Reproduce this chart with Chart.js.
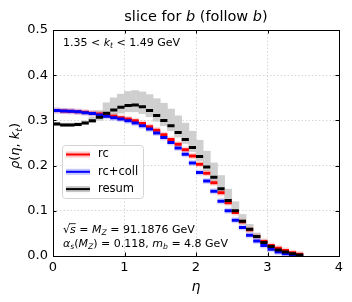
<!DOCTYPE html>
<html>
<head>
<meta charset="utf-8">
<script src="https://cdn.jsdelivr.net/npm/chart.js@4.4.1/dist/chart.umd.min.js"></script>
<style>
  html, body { margin: 0; padding: 0; background: #fff; }
</style>
</head>
<body>
<canvas id="c" width="352" height="302"></canvas>
<script>
// bin lower edges in eta, all bins 0.1 wide
const binLo = [0.0, 0.1, 0.2, 0.3, 0.4, 0.5, 0.6, 0.7, 0.8, 0.9,
               1.0, 1.1, 1.2, 1.3, 1.4, 1.5, 1.6, 1.7, 1.8, 1.9,
               2.0, 2.1, 2.2, 2.3, 2.4, 2.5, 2.6, 2.7, 2.8, 2.9,
               3.0, 3.1, 3.2, 3.3, 3.4];
const binWidth = 0.1;

const rc = [0.322, 0.321, 0.320, 0.319, 0.318, 0.316, 0.314, 0.312, 0.309, 0.306,
            0.303, 0.299, 0.293, 0.286, 0.278, 0.268, 0.258, 0.247, 0.235, 0.221,
            0.203, 0.183, 0.162, 0.140, 0.118, 0.096, 0.076, 0.058, 0.043, 0.032,
            0.023, 0.017, 0.012, 0.007, 0.004];

const rcColl = [0.322, 0.321, 0.320, 0.319, 0.317, 0.315, 0.312, 0.309, 0.306, 0.303,
                0.299, 0.294, 0.288, 0.281, 0.272, 0.262, 0.251, 0.239, 0.225, 0.206,
                0.185, 0.166, 0.143, 0.121, 0.100, 0.079, 0.063, 0.046, 0.033, 0.023,
                0.015, 0.009, 0.005, 0.002, 0.000];

const resum = [0.292, 0.290, 0.290, 0.291, 0.294, 0.299, 0.307, 0.316, 0.323, 0.329,
               0.333, 0.334, 0.330, 0.322, 0.311, 0.300, 0.288, 0.273, 0.258, 0.240,
               0.220, 0.197, 0.174, 0.149, 0.123, 0.100, 0.077, 0.059, 0.043, 0.030,
               0.021, 0.013, 0.009, 0.005, 0.002];

const resumHi = [0.296, 0.294, 0.294, 0.295, 0.299, 0.307, 0.322, 0.339, 0.350, 0.358,
                 0.364, 0.366, 0.363, 0.357, 0.348, 0.338, 0.325, 0.310, 0.294, 0.276,
                 0.256, 0.232, 0.206, 0.178, 0.148, 0.120, 0.092, 0.070, 0.051, 0.036,
                 0.025, 0.016, 0.011, 0.006, 0.003];

const resumLo = [0.289, 0.287, 0.287, 0.288, 0.291, 0.295, 0.300, 0.306, 0.311, 0.316,
                 0.319, 0.319, 0.315, 0.308, 0.298, 0.288, 0.277, 0.263, 0.249, 0.231,
                 0.211, 0.189, 0.166, 0.141, 0.116, 0.094, 0.071, 0.054, 0.039, 0.027,
                 0.018, 0.011, 0.007, 0.004, 0.001];

const xTicks = [0, 1, 2, 3, 4];
const yTicks = [0, 0.1, 0.2, 0.3, 0.4, 0.5];

const FONT = 'DejaVu Sans';

// one short horizontal segment per bin, broken by null points
function segments(vals) {
  const pts = [];
  vals.forEach((v, i) => {
    const a = binLo[i], b = binLo[i] + binWidth;
    pts.push({ x: a, y: v }, { x: b, y: v }, { x: b, y: null });
  });
  return pts;
}

function band(lo, hi) {
  return binLo.map((a, i) => ({ x: a + binWidth / 2, y: [lo[i], hi[i]] }));
}

// draw a run of text pieces: {t, it, sub, over}
function drawRuns(ctx, runs, x, y, size, align) {
  const fontOf = r => `${r.it ? 'italic ' : ''}${r.sub ? size * 0.7 : size}px "${FONT}"`;
  let w = 0;
  runs.forEach(r => { ctx.font = fontOf(r); w += ctx.measureText(r.t).width; });
  let cx = align === 'center' ? x - w / 2 : x;
  runs.forEach(r => {
    ctx.font = fontOf(r);
    const rw = ctx.measureText(r.t).width;
    const yy = r.sub ? y + size * 0.22 : y;
    ctx.fillText(r.t, cx, yy);
    if (r.over) {
      ctx.fillRect(cx - 1, yy - size * 0.88, rw + 1, 0.8);
    }
    cx += rw;
  });
}

const decorations = {
  id: 'decorations',
  afterDraw(chart) {
    const { ctx, chartArea: ca, scales: { x, y } } = chart;
    ctx.save();

    // spines
    ctx.strokeStyle = '#000';
    ctx.lineWidth = 1;
    ctx.strokeRect(Math.round(ca.left) + 0.5, Math.round(ca.top) + 0.5,
                   Math.round(ca.right - ca.left), Math.round(ca.bottom - ca.top));

    // inward ticks on all four sides
    ctx.beginPath();
    xTicks.forEach(v => {
      const px = Math.round(x.getPixelForValue(v)) + 0.5;
      ctx.moveTo(px, ca.bottom); ctx.lineTo(px, ca.bottom - 3.5);
      ctx.moveTo(px, ca.top); ctx.lineTo(px, ca.top + 3.5);
    });
    yTicks.forEach(v => {
      const py = Math.round(y.getPixelForValue(v)) + 0.5;
      ctx.moveTo(ca.left, py); ctx.lineTo(ca.left + 3.5, py);
      ctx.moveTo(ca.right, py); ctx.lineTo(ca.right - 3.5, py);
    });
    ctx.stroke();

    ctx.fillStyle = '#000';
    ctx.textBaseline = 'alphabetic';

    // title
    drawRuns(ctx, [
      { t: 'slice for ' }, { t: 'b', it: true }, { t: ' (follow ' }, { t: 'b', it: true }, { t: ')' }
    ], (ca.left + ca.right) / 2, 21, 14.5, 'center');

    // axis labels
    drawRuns(ctx, [{ t: 'η', it: true }], (ca.left + ca.right) / 2, 291, 14, 'center');
    ctx.save();
    ctx.translate(19, (ca.top + ca.bottom) / 2 + 3);
    ctx.rotate(-Math.PI / 2);
    drawRuns(ctx, [
      { t: 'ρ', it: true }, { t: '(' }, { t: 'η', it: true }, { t: ', ' },
      { t: 'k', it: true }, { t: 't', it: true, sub: true }, { t: ')' }
    ], 0, 0, 13, 'center');
    ctx.restore();

    // annotations
    drawRuns(ctx, [
      { t: '1.35 < ' }, { t: 'k', it: true }, { t: 't', it: true, sub: true }, { t: ' < 1.49 GeV' }
    ], ca.left + 10, 46, 11, 'left');
    drawRuns(ctx, [
      { t: '√' }, { t: 's', it: true, over: true }, { t: ' = ' }, { t: 'M', it: true },
      { t: 'Z', it: true, sub: true }, { t: ' = 91.1876 GeV' }
    ], ca.left + 10, 233, 11, 'left');
    drawRuns(ctx, [
      { t: 'α', it: true }, { t: 's', it: true, sub: true }, { t: '(' }, { t: 'M', it: true },
      { t: 'Z', it: true, sub: true }, { t: ') = 0.118, ' }, { t: 'm', it: true },
      { t: 'b', it: true, sub: true }, { t: ' = 4.8 GeV' }
    ], ca.left + 10, 247, 11, 'left');

    // legend
    const lx = 62, ly = 145, lw = 81, lh = 53;
    ctx.fillStyle = 'rgba(255,255,255,0.8)';
    ctx.strokeStyle = '#d4d4d4';
    ctx.lineWidth = 1;
    ctx.beginPath();
    ctx.roundRect(lx + 0.5, ly + 0.5, lw, lh, 3);
    ctx.fill();
    ctx.stroke();
    const entries = [
      { label: 'rc', color: '#ff0000', halo: 'rgba(255,0,0,0.22)' },
      { label: 'rc+coll', color: '#0000ff', halo: 'rgba(0,0,255,0.22)' },
      { label: 'resum', color: '#000000', halo: 'rgba(128,128,128,0.45)' },
    ];
    entries.forEach((e, i) => {
      const yy = 154.5 + i * 17.3;
      ctx.lineCap = 'butt';
      ctx.strokeStyle = e.halo;
      ctx.lineWidth = 6;
      ctx.beginPath(); ctx.moveTo(66, yy); ctx.lineTo(90, yy); ctx.stroke();
      ctx.strokeStyle = e.color;
      ctx.lineWidth = 2;
      ctx.beginPath(); ctx.moveTo(66, yy); ctx.lineTo(90, yy); ctx.stroke();
      ctx.fillStyle = '#000';
      ctx.font = `11.5px "${FONT}"`;
      ctx.textBaseline = 'middle';
      ctx.fillText(e.label, 98, yy);
    });

    ctx.restore();
  }
};

const segStyle = { type: 'line', pointRadius: 0, spanGaps: false, borderCapStyle: 'butt', tension: 0 };

new Chart(document.getElementById('c'), {
  type: 'line',
  data: {
    datasets: [
      {
        type: 'bar',
        label: 'resum band',
        data: band(resumLo, resumHi),
        backgroundColor: '#cfcfcf',
        borderWidth: 0,
        barPercentage: 1,
        categoryPercentage: 1,
        grouped: false,
        order: 10,
      },
      { ...segStyle, label: 'rc halo', data: segments(rc), borderColor: 'rgba(255,0,0,0.16)', borderWidth: 6, order: 6 },
      { ...segStyle, label: 'rc+coll halo', data: segments(rcColl), borderColor: 'rgba(0,0,255,0.16)', borderWidth: 6, order: 5 },
      { ...segStyle, label: 'rc', data: segments(rc), borderColor: '#ff0000', borderWidth: 3, order: 3 },
      { ...segStyle, label: 'rc+coll', data: segments(rcColl), borderColor: '#0000ff', borderWidth: 3, order: 2 },
      { ...segStyle, label: 'resum', data: segments(resum), borderColor: '#000000', borderWidth: 3, order: 1 },
    ],
  },
  options: {
    responsive: false,
    animation: false,
    devicePixelRatio: 1,
    layout: { padding: { top: 30, right: 13, left: 0, bottom: 0 } },
    plugins: { legend: { display: false }, tooltip: { enabled: false } },
    scales: {
      x: {
        type: 'linear',
        min: 0, max: 4,
        offset: false,
        afterFit: s => { s.height = 46; },
        afterBuildTicks: s => { s.ticks = xTicks.map(v => ({ value: v })); },
        ticks: { color: '#000', font: { family: FONT, size: 13 }, padding: 4, maxRotation: 0,
                 callback: v => String(v) },
        grid: { offset: false, drawTicks: false, color: '#cccccc', lineWidth: 0.8 },
        border: { display: false, dash: [1.5, 2] },
      },
      y: {
        type: 'linear',
        min: 0, max: 0.5,
        afterFit: s => { s.width = 53; },
        afterBuildTicks: s => { s.ticks = yTicks.map(v => ({ value: v })); },
        ticks: { color: '#000', font: { family: FONT, size: 13 }, padding: 5,
                 callback: v => v.toFixed(1) },
        grid: { drawTicks: false, color: '#cccccc', lineWidth: 0.8 },
        border: { display: false, dash: [1.5, 2] },
      },
    },
  },
  plugins: [decorations],
});
</script>
</body>
</html>
